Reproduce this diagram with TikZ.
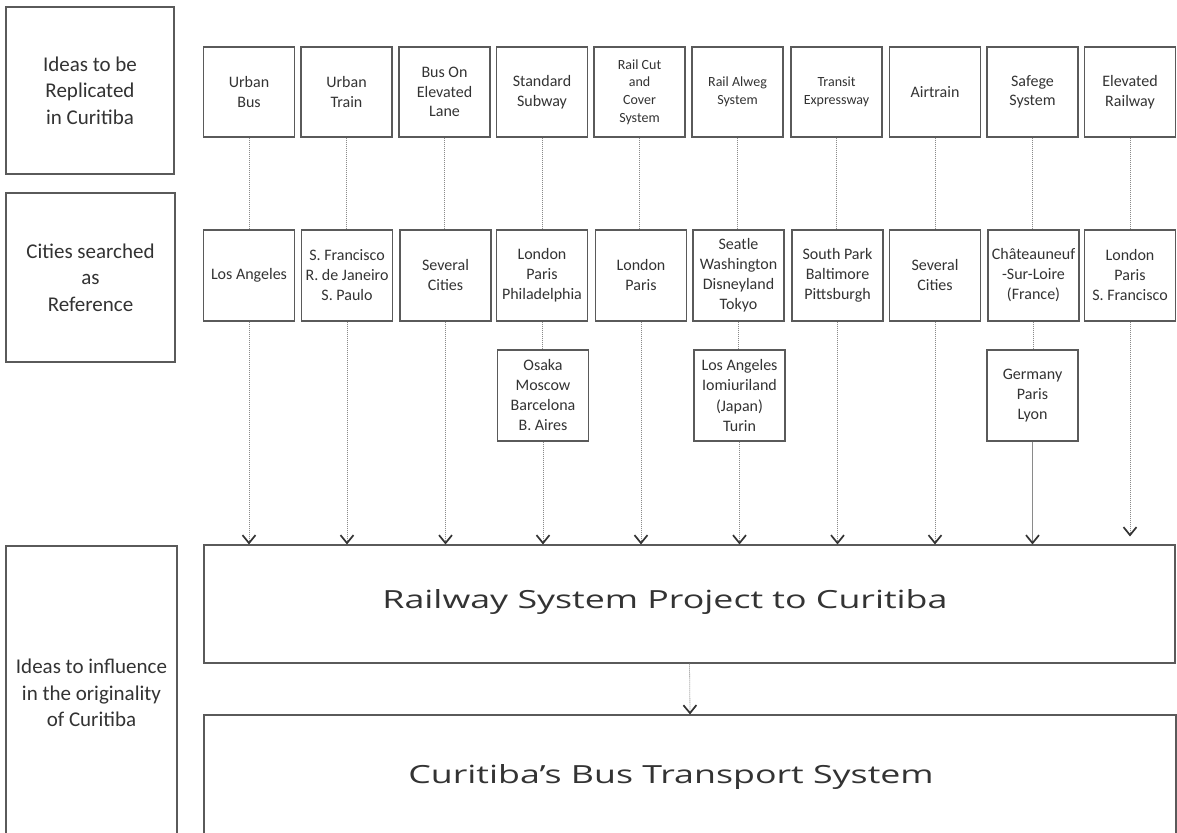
\documentclass[tikz,border=0pt]{standalone}
\usepackage{fontspec}
\setmainfont{Carlito}
\newfontfamily\bigfont{Open Sans}
\usetikzlibrary{arrows.meta}
\definecolor{boxgray}{HTML}{5A5A5A}
\definecolor{txtgray}{HTML}{333333}
\definecolor{dotgray}{HTML}{8A8A8A}
\tikzset{
  box/.style={draw=boxgray, line width=1.1pt, inner sep=0pt, align=center, text=txtgray},
  topbox/.style={box, minimum width=91pt, minimum height=90pt, font=\fontsize{16}{19.5}\selectfont},
  smalltop/.style={box, minimum width=91pt, minimum height=90pt, font=\fontsize{14}{17.7}\selectfont},
  citybox/.style={box, minimum width=91pt, minimum height=91pt, font=\fontsize{16}{20}\selectfont},
  sidebox/.style={box, font=\fontsize{21}{26.5}\selectfont},
  bigbox/.style={box},
  bigtext/.style={inner sep=0pt, text=txtgray, font=\bigfont\fontsize{25}{30}\selectfont},
  link/.style={draw=dotgray, line width=0.8pt, dash pattern=on 1pt off 1pt},
  arrowlink/.style={link, -{Straight Barb[length=8pt,width=13pt,line width=1.7pt,color=txtgray]}},
  solidarrow/.style={draw=dotgray, line width=0.8pt, -{Straight Barb[length=8pt,width=13pt,line width=1.7pt,color=txtgray]}}
}
\begin{document}
\begin{tikzpicture}[x=1pt,y=-1pt]
\useasboundingbox (0,0) rectangle (1177,832);
\fill[white] (0,0) rectangle (1177,832);

% side label boxes
\node[sidebox, minimum width=168pt, minimum height=167pt] (s1) at (90,90.5) {Ideas to be\\Replicated\\in Curitiba};
\node[sidebox, minimum width=169pt, minimum height=169pt] (s2) at (90.5,277.5) {Cities searched\\as\\Reference};
\node[sidebox, minimum width=171pt, minimum height=294pt] (s3) at (91.5,693) {Ideas to influence\\in the originality\\of Curitiba};

% top row
\node[topbox] (t1) at (249,92) {Urban\\Bus};
\node[topbox] (t2) at (346.5,92) {Urban\\Train};
\node[topbox] (t3) at (444.5,92) {Bus On\\Elevated\\Lane};
\node[topbox] (t4) at (542,92) {Standard\\Subway};
\node[smalltop] (t5) at (639.5,92) {Rail Cut\\and\\Cover\\System};
\node[smalltop] (t6) at (737.5,92) {Rail Alweg\\System};
\node[smalltop] (t7) at (836.5,92) {Transit\\Expressway};
\node[topbox] (t8) at (935,92) {Airtrain};
\node[topbox] (t9) at (1032.5,92) {Safege\\System};
\node[topbox] (t10) at (1130,92) {Elevated\\Railway};

% city row
\node[citybox] (c1) at (249,275.5) {Los Angeles};
\node[citybox] (c2) at (347,275.5) {S. Francisco\\R. de Janeiro\\S. Paulo};
\node[citybox] (c3) at (445.5,275.5) {Several\\Cities};
\node[citybox] (c4) at (542,275.5) {London\\Paris\\Philadelphia};
\node[citybox] (c5) at (641,275.5) {London\\Paris};
\node[citybox] (c6) at (738.5,275.5) {Seatle\\Washington\\Disneyland\\Tokyo};
\node[citybox] (c7) at (837.5,275.5) {South Park\\Baltimore\\Pittsburgh};
\node[citybox] (c8) at (935,275.5) {Several\\Cities};
\node[citybox] (c9) at (1033.5,275.5) {Châteauneuf\\-Sur-Loire\\(France)};
\node[citybox] (c10) at (1130,275.5) {London\\Paris\\S. Francisco};

% third row
\node[citybox] (d4) at (543,395.5) {Osaka\\Moscow\\Barcelona\\B. Aires};
\node[citybox] (d6) at (739.5,395.5) {Los Angeles\\Iomiuriland\\(Japan)\\Turin};
\node[citybox] (d9) at (1032.5,395.5) {Germany\\Paris\\Lyon};

% big boxes
\node[bigbox, minimum width=971pt, minimum height=118pt] (rail) at (689.5,604) {};
\node[bigbox, minimum width=972pt, minimum height=125pt] (bus) at (690,777.5) {};
\node[bigtext] (railtxt) at (665,602) {\scalebox{1.43}[1]{Railway System Project to Curitiba}};
\node[bigtext] (bustxt) at (671,777) {\scalebox{1.43}[1]{Curitiba’s Bus Transport System}};

% connectors top -> city
\foreach \i in {1,...,10} {
  \draw[link] (t\i.south) -- (t\i.south |- c\i.north);
}
% city -> third row
\draw[link] (c4.south) -- (c4.south |- d4.north);
\draw[link] (c6.south) -- (c6.south |- d6.north);
\draw[link] (c9.south) -- (c9.south |- d9.north);

% arrows into railway box
\foreach \i in {1,2,3,5,7,8} {
  \draw[arrowlink] (c\i.south) -- (c\i.south |- rail.north);
}
\draw[arrowlink, shorten >=8pt] (c10.south) -- (c10.south |- rail.north);
\draw[arrowlink] (d4.south) -- (d4.south |- rail.north);
\draw[arrowlink] (d6.south) -- (d6.south |- rail.north);
\draw[solidarrow] (d9.south) -- (d9.south |- rail.north);

% railway -> bus
\draw[arrowlink] (rail.south) -- (bus.north);
\end{tikzpicture}
\end{document}
